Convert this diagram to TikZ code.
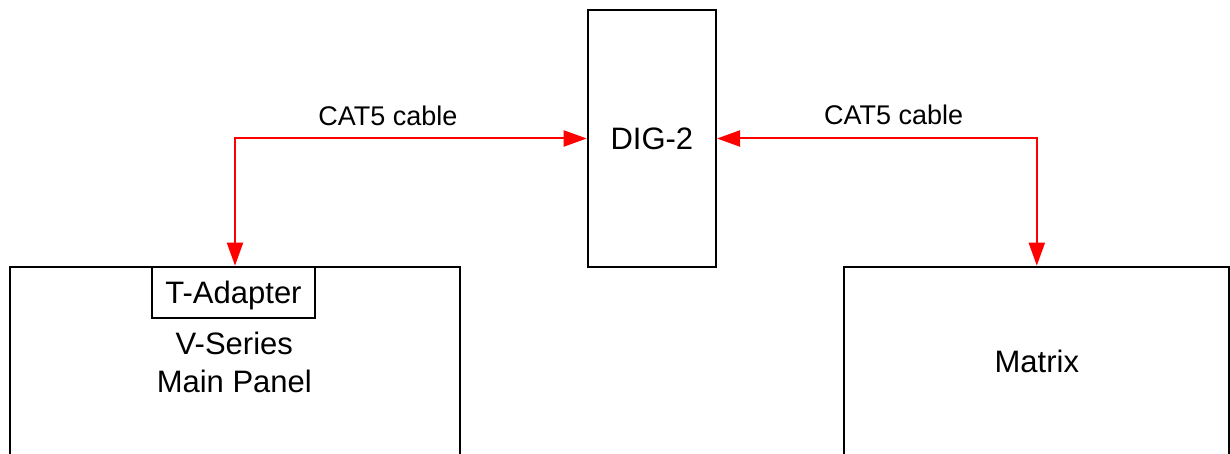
\documentclass[tikz,border=0pt]{standalone}
\usepackage{fontspec}
\setmainfont{Liberation Sans}
\usetikzlibrary{arrows.meta}
\begin{document}
\begin{tikzpicture}[x=1pt,y=-1pt,
  box/.style={draw=black, line width=2pt, inner sep=0pt, anchor=north west},
  big/.style={font=\fontsize{31}{38}\selectfont},
  small/.style={font=\fontsize{27}{32}\selectfont, inner sep=0pt, anchor=base},
  conn/.style={draw=red, line width=2pt, {Triangle[length=23pt,width=16pt]}-{Triangle[length=23pt,width=16pt]}}]
\useasboundingbox (0,0) rectangle (1230,454);
\clip (0,0) rectangle (1230,454);
\node[box, big, minimum width=128.3pt, minimum height=256.4pt] (dig) at (586.7,9.3) {DIG-2};
\node[box, minimum width=450pt, minimum height=190pt] (vs) at (9.3,265.7) {};
\node[box, big, minimum width=163.6pt, minimum height=51.6pt, text height=22pt, text depth=0pt] (tad) at (150.7,265.7) {T-Adapter};
\node[big, align=center, inner sep=0pt, anchor=north] (vslabel) at (234.3,331.7) {V-Series\\Main Panel};
\node[box, big, minimum width=385pt, minimum height=190pt] (mx) at (843.3,265.7) {Matrix};
\draw[conn] (dig.west) -| ([xshift=1.5pt]tad.north);
\draw[conn] (dig.east) -| (mx.north);
\node[small] (l1) at (388,126) {CAT5 cable};
\node[small] (l2) at (893.7,125) {CAT5 cable};
\end{tikzpicture}
\end{document}
